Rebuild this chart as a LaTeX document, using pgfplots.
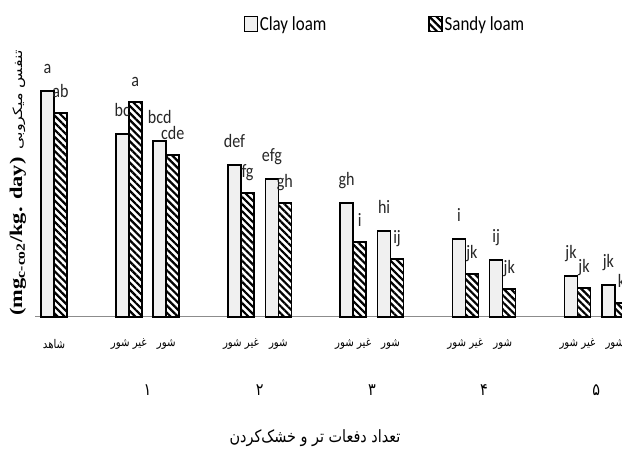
\documentclass[border=0pt]{standalone}
\usepackage{fontspec}
\usepackage{graphicx}
\usepackage{pgfplots}
\usepackage{pgfplotstable}
\pgfplotsset{compat=1.18}
\usetikzlibrary{patterns.meta}
\TeXXeTstate=1
\setmainfont{Carlito}[FakeStretch=0.85]
\newfontfamily\fa[Script=Arabic,FakeStretch=0.85]{DejaVu Sans}
\newfontfamily\faplain[Script=Arabic]{DejaVu Sans}
\newfontfamily\tnr{Liberation Serif}

% square legend swatch
\pgfplotsset{boxlegend/.style={legend image code/.code={%
  \draw[##1, line width=1.2bp] (0bp,-7.5bp) rectangle (13bp,7.5bp);}}}

% microbial respiration, clay loam soil
\pgfplotstableread{
x   y   lab
0   226 a
2   183 bc
3   176 bcd
5   152 def
6   138 efg
8   114 gh
9   86  hi
11  78  i
12  57  ij
14  41  jk
15  32  jk
}\clay
% microbial respiration, sandy loam soil
\pgfplotstableread{
x   y   lab
0   204 ab
2   215 a
3   162 cde
5   124 fg
6   114 gh
8   75  i
9   58  ij
11  43  jk
12  28  jk
14  29  jk
15  14  k
}\sandy

\newcommand{\shahed}{\beginR شاهد\endR}
\newcommand{\gs}{\beginR غیر شور\endR}
\newcommand{\sh}{\beginR شور\endR}

\begin{document}
\begin{tikzpicture}[x=1bp,y=1bp]
\path[use as bounding box] (0,0) rectangle (622,457);
\clip (0,0) rectangle (622,457);
\begin{axis}[
  at={(35bp,140bp)}, anchor=south west,
  scale only axis, width=587bp, height=257bp,
  xmin=-0.51, xmax=15.19, ymin=0, ymax=257,
  clip=false,
  ybar=0pt, bar width=13bp,
  axis x line*=bottom, hide y axis,
  x axis line style={draw=black!45, line width=1bp, -},
  xtick={0,2,3,5,6,8,9,11,12,14,15},
  xticklabels={\shahed,\gs,\sh,\gs,\sh,\gs,\sh,\gs,\sh,\gs,\sh},
  major tick length=0pt,
  xticklabel style={font=\fa\fontsize{12}{12}\selectfont, anchor=center, yshift=-27bp},
  nodes near coords, point meta=explicit symbolic,
  nodes near coords align={anchor=base},
  every node near coord/.append style={font=\fontsize{19}{19}\selectfont, inner sep=0pt, yshift=15bp, text=black!85},
  legend columns=2,
  legend style={at={(0.355,1.14)}, anchor=west, draw=none, fill=none,
    font=\fontsize{20}{20}\selectfont, inner sep=0pt,
    /tikz/every even column/.append style={column sep=100bp}},
]
\addplot[draw=black, fill=black!6, line width=1.5bp, boxlegend,
  every node near coord/.append style={yshift=2bp}]
  table[x=x, y=y, meta=lab] {\clay};
\addlegendentry{Clay loam}
\addplot[draw=black, line width=1.5bp,
  pattern={Lines[angle=-45, distance=5bp, line width=2.2bp]}, pattern color=black, boxlegend]
  table[x=x, y=y, meta=lab] {\sandy};
\addlegendentry{Sandy loam}

% wetting-drying cycle numbers under each pair of treatments
\node[font=\fa\fontsize{17}{17}\selectfont] at (axis cs:2.5,0) [yshift=-73bp] {۱};
\node[font=\fa\fontsize{17}{17}\selectfont] at (axis cs:5.5,0) [yshift=-73bp] {۲};
\node[font=\fa\fontsize{17}{17}\selectfont] at (axis cs:8.5,0) [yshift=-73bp] {۳};
\node[font=\fa\fontsize{17}{17}\selectfont] at (axis cs:11.5,0) [yshift=-73bp] {۴};
\node[font=\fa\fontsize{17}{17}\selectfont] at (axis cs:14.5,0) [yshift=-73bp] {۵};
\end{axis}

% axis titles
\node[font=\fa\fontsize{17}{17}\selectfont] at (315,19) {\beginR تعداد دفعات تر و خشک‌کردن\endR};
\node[rotate=90] at (18,274) {\scalebox{1}[0.8]{{\tnr\bfseries\fontsize{22.5}{22.5}\selectfont (mg\textsubscript{c-co2}/kg. day)}\hspace{8bp}{\faplain\fontsize{16}{16}\selectfont\beginR تنفس میکروبی\endR}}};
\end{tikzpicture}
\end{document}
